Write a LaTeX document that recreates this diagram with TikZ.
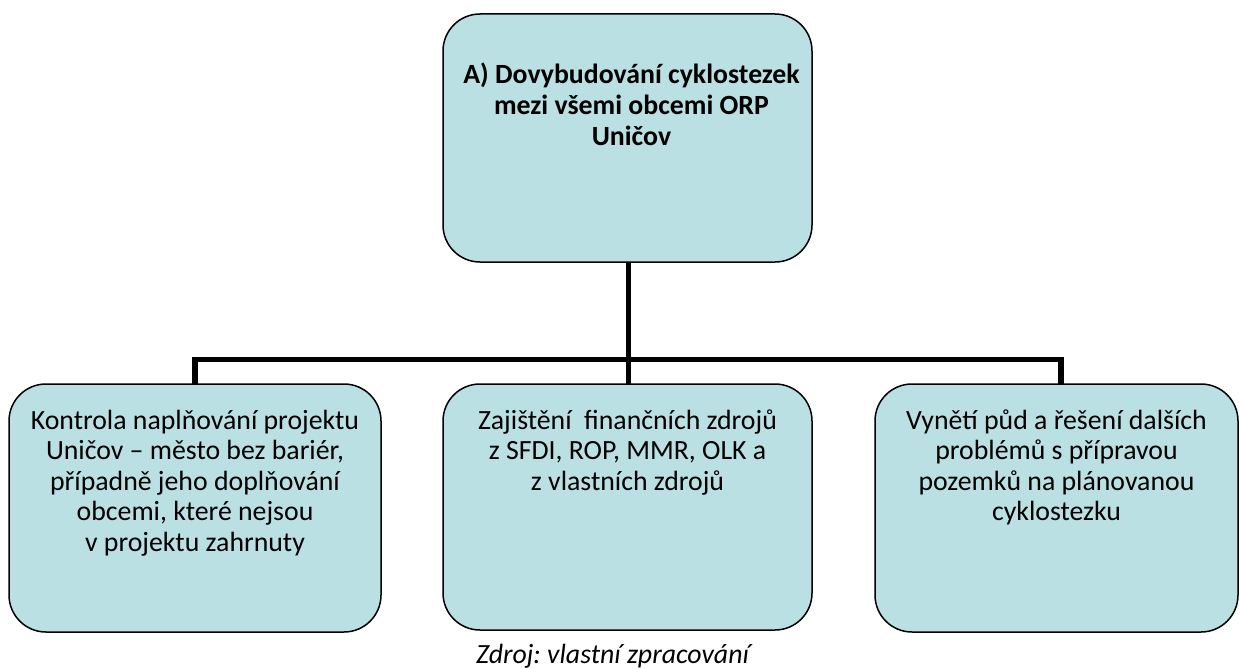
\documentclass[tikz,border=0pt]{standalone}
\usepackage{fontspec}
\setmainfont{Carlito}
\frenchspacing
\definecolor{boxfill}{HTML}{BBE0E3}
\begin{document}
\begin{tikzpicture}[x=1pt,y=-1pt,
  box/.style={draw=black, line width=1.5pt, fill=boxfill, rounded corners=37pt,
    inner sep=0pt, outer sep=0pt},
  boxtext/.style={align=center, inner sep=0pt, anchor=north,
    font=\fontsize{27.8}{30.5}\selectfont},
  conn/.style={draw=black, line width=5.5pt, line join=miter}]
\useasboundingbox (0,0) rectangle (1239,669);
\node[box, minimum width=369pt, minimum height=248pt] (top) at (627.5,138) {};
\node[box, minimum width=372pt, minimum height=248pt] (left) at (195,508) {};
\node[box, minimum width=369pt, minimum height=246pt] (mid) at (627.5,507) {};
\node[box, minimum width=363pt, minimum height=248pt] (right) at (1056.5,508) {};
\coordinate (bus) at (0,359.5);
\coordinate (rc) at ([xshift=4.5pt]right.north);
\draw[conn] ([xshift=1pt]top.south) -- ([xshift=1pt]mid.north);
\draw[conn] (left.north) -- (left.north |- bus) -- (rc |- bus) -- (rc);
\node[boxtext, font=\fontsize{27.8}{31}\selectfont\bfseries] (toptext) at ([xshift=4pt,yshift=-48.5pt]top.north)
  {A) Dovybudování cyklostezek\\mezi všemi obcemi ORP\\Uničov};
\node[boxtext] (lefttext) at ([yshift=-25.5pt]left.north)
  {Kontrola naplňování projektu\\Uničov – město bez bariér,\\případně jeho doplňování\\obcemi, které nejsou\\v~projektu zahrnuty};
\node[boxtext] (midtext) at ([yshift=-25.5pt]mid.north)
  {Zajištění\ \ finančních zdrojů\\z~SFDI, ROP, MMR, OLK a\\z~vlastních zdrojů};
\node[boxtext] (righttext) at ([yshift=-25.5pt]right.north)
  {Vynětí půd a řešení dalších\\problémů s~přípravou\\pozemků na plánovanou\\cyklostezku};
\node[anchor=base, inner sep=0pt, font=\fontsize{27.8}{30}\selectfont\itshape] (caption) at (612.5,663)
  {Zdroj: vlastní zpracování};
\end{tikzpicture}
\end{document}
